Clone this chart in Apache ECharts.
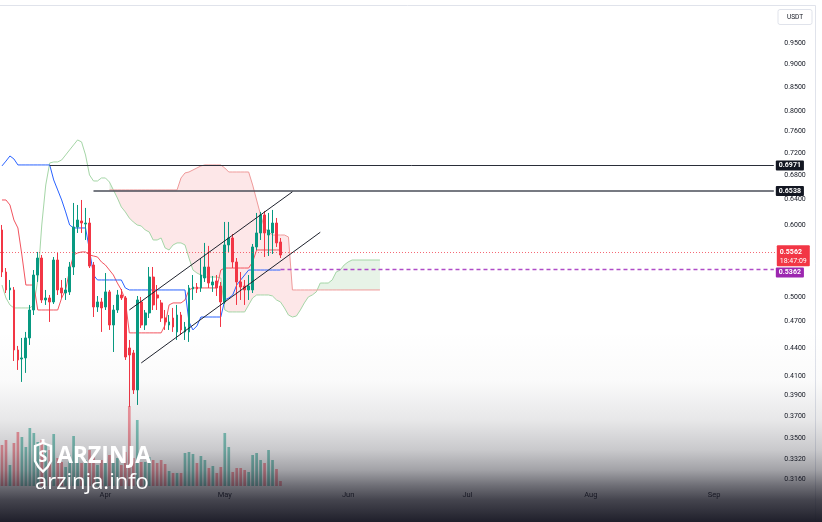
<!DOCTYPE html>
<html><head><meta charset="utf-8">
<script src="https://cdn.jsdelivr.net/npm/echarts@6/dist/echarts.min.js"></script>
<style>html,body{margin:0;padding:0;background:#fff;overflow:hidden}#c{width:822px;height:522px}</style>
</head><body><div id="c"></div>
<script>
// ---------- data ----------
const startYear = 2025, startMonth = 2, startDay = 6;   // 6 Mar
const dayCount = 195;
const monthNames = ['Jan','Feb','Mar','Apr','May','Jun','Jul','Aug','Sep','Oct','Nov','Dec'];

const opens = [0.5925,0.5328,0.5092,0.5092,0.4376,0.4278,0.4289,0.4511,0.4841,0.5288,
 0.5520,0.4965,0.4990,0.4940,0.5492,0.5118,0.5053,0.5067,0.5396,0.5970,
 0.6061,0.6015,0.6030,0.5423,0.4878,0.4940,0.4878,0.5067,0.4661,0.4841,
 0.5028,0.4990,0.4398,0.4343,0.3956,0.4940,0.4661,0.4805,0.5261,0.5028,
 0.4928,0.4744,0.4661,0.4744,0.4580,0.4780,0.4580,0.4580,0.5105,0.5130,
 0.5118,0.5248,0.5396,0.5156,0.5209,0.5143,0.4940,0.5705,0.5806,0.5465,
 0.5196,0.5143,0.5092,0.5092,0.5676,0.5880,0.6154,0.5850,0.5880,0.6030,0.5748];
const closes = [0.5328,0.5092,0.5118,0.4376,0.4267,0.4289,0.4511,0.4841,0.5288,0.5520,
 0.4965,0.4990,0.4940,0.5492,0.5092,0.5053,0.5092,0.5396,0.5970,0.6076,
 0.6030,0.6030,0.5409,0.4878,0.4940,0.4866,0.5067,0.4661,0.4841,0.5028,
 0.4990,0.4299,0.4321,0.3956,0.4965,0.4661,0.4805,0.5261,0.4903,0.4990,
 0.4744,0.4697,0.4697,0.4638,0.4780,0.4603,0.4638,0.5118,0.5130,0.5105,
 0.5288,0.5396,0.5182,0.5196,0.5118,0.4940,0.5705,0.5806,0.5465,0.5196,
 0.5130,0.5092,0.5143,0.5676,0.5880,0.6154,0.5880,0.5925,0.6030,0.5734,0.5562];
const lows = [0.5261,0.5053,0.4965,0.4256,0.4161,0.4037,0.4130,0.4432,0.4780,0.5196,
 0.4928,0.4903,0.4697,0.4915,0.5028,0.4990,0.4965,0.5028,0.5288,0.5880,
 0.5880,0.5777,0.5382,0.4756,0.4817,0.4580,0.4841,0.4603,0.4354,0.4805,
 0.4965,0.4267,0.3790,0.3916,0.3809,0.4626,0.4603,0.4744,0.4841,0.4841,
 0.4697,0.4603,0.4603,0.4580,0.4488,0.4545,0.4488,0.4466,0.4965,0.5053,
 0.5067,0.5196,0.5118,0.5067,0.5015,0.4638,0.4915,0.5605,0.5382,0.4903,
 0.4965,0.4903,0.4965,0.5053,0.5633,0.5777,0.5534,0.5548,0.5576,0.5676,0.5520];
const highs = [0.6000,0.5382,0.5222,0.5130,0.4421,0.4511,0.4580,0.4903,0.5355,0.5605,
 0.5562,0.5092,0.5028,0.5534,0.5590,0.5222,0.5248,0.5465,0.6343,0.6311,
 0.6391,0.6264,0.6107,0.5465,0.5015,0.4990,0.5315,0.5092,0.4903,0.5092,
 0.5105,0.5015,0.4488,0.4376,0.5015,0.5003,0.4841,0.5396,0.5396,0.5156,
 0.4965,0.4841,0.4780,0.4866,0.4903,0.4817,0.4697,0.5156,0.5288,0.5182,
 0.5520,0.5734,0.5691,0.5275,0.5288,0.5196,0.6046,0.6046,0.5865,0.5520,
 0.5328,0.5222,0.5288,0.5719,0.6185,0.6201,0.6216,0.6185,0.6232,0.6107,0.5806];
const volumes = [41,46,21,43,54,49,39,58,53,44,
 46,43,36,52,28,24,19,31,50,29,
 23,26,36,31,21,26,23,31,23,28,
 21,34,80,28,66,24,24,29,26,23,
 26,22,15,13,13,13,33,34,32,23,
 30,26,18,20,13,19,53,39,14,18,
 18,16,14,31,33,26,23,36,26,17,5];

const tenkan = [0.6965,0.7050,0.7142,0.7088,0.6982,0.6982,0.6982,0.6982,0.6982,0.6982,
 0.6982,0.6982,0.6982,0.6722,0.6555,0.6391,0.6201,0.6000,0.5955,0.5955,
 0.5955,0.5955,0.5633,0.5288,0.5222,0.5222,0.5222,0.5222,0.5222,0.5222,
 0.5222,0.5118,0.5092,0.5092,0.5092,0.5092,0.5092,0.5092,0.5092,0.5092,
 0.5092,0.5092,0.5092,0.5092,0.5092,0.5092,0.5092,0.4697,0.4603,0.4650,
 0.4756,0.4756,0.4756,0.4756,0.4756,0.4756,0.4965,0.4990,0.5028,0.5156,
 0.5222,0.5288,0.5355,0.5355,0.5355,0.5355,0.5355,0.5355,0.5355,0.5355,0.5355];
const kijun = [0.6391,0.6391,0.6311,0.6076,0.5955,0.5562,0.5156,0.5156,0.5156,0.4841,
 0.4841,0.4841,0.4841,0.4841,0.4841,0.4990,0.5092,0.5355,0.5562,0.5591,
 0.5605,0.5605,0.5562,0.5548,0.5534,0.5465,0.5423,0.5355,0.5288,0.5182,
 0.5092,0.4965,0.4569,0.4569,0.4569,0.4569,0.4569,0.4569,0.4569,0.4569,
 0.4569,0.4661,0.4903,0.4928,0.4928,0.4928,0.4965,0.5092,0.5118,0.5118,
 0.5118,0.5118,0.5118,0.5118,0.5118,0.5355,0.5382,0.5382,0.5382,0.5382,
 0.5382,0.5382,0.5382,0.5465,0.5633,0.5633,0.5633,0.5633,0.5633,0.5633,0.5633];
const leadA = [0.5156,0.4990,0.4903,0.4866,0.4866,0.4866,0.4866,0.4866,0.4903,0.5222,
 0.6000,0.6638,0.7017,0.7035,0.7035,0.7070,0.7160,0.7252,0.7344,0.7437,
 0.7400,0.7160,0.6808,0.6705,0.6705,0.6756,0.6756,0.6688,0.6555,0.6423,
 0.6279,0.6201,0.6107,0.6046,0.6000,0.5985,0.5925,0.5895,0.5777,0.5777,
 0.5806,0.5662,0.5633,0.5705,0.5734,0.5734,0.5705,0.5520,0.5355,0.5315,
 0.5288,0.5261,0.5261,0.5261,0.5261,0.5248,0.4841,0.4817,0.4817,0.4817,
 0.4817,0.4817,0.4903,0.4990,0.5028,0.5028,0.5028,0.5028,0.5015,0.4965,
 0.4940,0.4866,0.4780,0.4756,0.4768,0.4841,0.4928,0.5003,0.5028,0.5067,
 0.5182,0.5182,0.5182,0.5222,0.5328,0.5355,0.5423,0.5465,0.5492,0.5492,
 0.5492,0.5492,0.5492,0.5492,0.5492,0.5492];
const leadBStart = 27;
const leadB = [0.6555,0.6555,0.6555,0.6555,0.6555,0.6555,0.6555,0.6555,0.6555,0.6555,
 0.6555,0.6555,0.6555,0.6555,0.6555,0.6555,0.6555,0.6555,
 0.6756,0.6842,0.6859,0.6894,0.6929,0.6964,0.6982,0.6982,0.6982,0.6982,
 0.6982,0.6929,0.6859,0.6859,0.6859,0.6859,0.6859,0.6859,0.6638,0.6391,
 0.6154,0.5955,0.5895,0.5850,0.5850,0.5850,0.5850,0.5821,
 0.5092,0.5092,0.5092,0.5092,0.5092,0.5092,0.5092,0.5092,0.5092,0.5092,
 0.5092,0.5092,0.5092,0.5092,0.5092,0.5092,0.5092,0.5092,0.5092,0.5092,
 0.5092,0.5092,0.5092];

const yTicks = [0.95,0.90,0.85,0.80,0.76,0.72,0.68,0.64,0.60,0.56,0.50,0.47,0.44,0.41,0.39,0.37,0.35,0.332,0.316];

const levelHigh = 0.6971, levelHighStart = 12;
const levelMid = 0.6538, levelMidStart = 23;
const lastPrice = 0.5562, lastTime = '18:47:09';
const avgPrice = 0.5362, avgStart = 70;
const channelUpper = [[32, 0.4841], [73, 0.6524]];
const channelLower = [[35, 0.4235], [80, 0.5891]];

// ---------- build ----------
const categories = [];
const t0 = Date.UTC(startYear, startMonth, startDay);
for (let i = 0; i < dayCount; i++) categories.push(new Date(t0 + i * 86400000).toISOString().slice(0, 10));

const pad = (arr, start) => { const out = new Array(dayCount).fill(null); arr.forEach((v, k) => { out[start + k] = v; }); return out; };
const A = pad(leadA, 0), B = pad(leadB, leadBStart);
const cloudStart = leadBStart, cloudEnd = leadA.length - 1;

const candleData = opens.map((o, i) => [o, closes[i], lows[i], highs[i]]);
const UP = '#089981', DOWN = '#F23645';
const volData = volumes.map((v, i) => ({ value: v, itemStyle: { color: closes[i] >= opens[i] ? 'rgba(8,153,129,0.5)' : 'rgba(242,54,69,0.5)' } }));

const FONT = 'Roboto, "Liberation Sans", sans-serif';
const priceLabel = (txt, bg, extra) => Object.assign({ show: true, position: 'end', distance: 2, formatter: txt, backgroundColor: bg, color: '#fff',
  fontSize: 7, fontWeight: 'bold', fontFamily: FONT, padding: [2, 3, 1, 3], borderRadius: 1 }, extra || {});

const GRID_LEFT = -1.7, GRID_W = 777.5;

const option = {
  animation: false,
  backgroundColor: '#ffffff',
  grid: [
    { left: GRID_LEFT, top: 0, width: GRID_W, height: 486 },
    { left: GRID_LEFT, top: 380, width: GRID_W, height: 106 }
  ],
  xAxis: [
    { type: 'category', data: categories, boundaryGap: true, gridIndex: 0,
      axisLine: { show: false }, axisTick: { show: false }, splitLine: { show: false },
      axisLabel: { interval: (idx, val) => val.slice(8) === '01', formatter: val => monthNames[+val.slice(5, 7) - 1],
        fontSize: 7.5, color: '#131722', margin: 5, fontFamily: FONT } },
    { type: 'category', data: categories, boundaryGap: true, gridIndex: 1, show: false }
  ],
  yAxis: [
    { type: 'log', logBase: 10, gridIndex: 0, position: 'right', min: 0.3104, max: 1.0589,
      axisLine: { show: false }, axisTick: { show: false }, splitLine: { show: false }, axisLabel: { show: false } },
    { type: 'value', gridIndex: 1, min: 0, max: 106, show: false, splitLine: { show: false } }
  ],
  series: [
    { type: 'bar', xAxisIndex: 1, yAxisIndex: 1, data: volData, barWidth: 2.7, z: 1, silent: true },
    { type: 'custom', xAxisIndex: 0, yAxisIndex: 0, z: 1, silent: true, clip: true,
      data: [[cloudStart, A[cloudStart]]], encode: { x: 0, y: 1 },
      renderItem: function (params, api) {
        const pts = [];
        for (let i = cloudStart; i <= cloudEnd; i++) pts.push({ a: api.coord([i, A[i]]), b: api.coord([i, B[i]]) });
        const RED = 'rgba(242,54,69,0.12)', GREEN = 'rgba(67,160,71,0.13)';
        const children = [];
        let ra = null, rb = null, cur = 0;
        const flush = () => {
          if (ra && ra.length > 1) children.push({ type: 'polygon', shape: { points: ra.concat(rb.slice().reverse()) }, style: { fill: cur > 0 ? RED : GREEN } });
        };
        const addSeg = (a0, b0, a1, b1, sg) => {
          if (ra === null || sg !== cur) { flush(); ra = [a0]; rb = [b0]; cur = sg; }
          ra.push(a1); rb.push(b1);
        };
        for (let k = 1; k < pts.length; k++) {
          const p = pts[k - 1], q = pts[k];
          const d0 = p.a[1] - p.b[1], d1 = q.a[1] - q.b[1];
          if (d0 * d1 < 0) {
            const t = d0 / (d0 - d1);
            const c = [p.a[0] + t * (q.a[0] - p.a[0]), p.a[1] + t * (q.a[1] - p.a[1])];
            addSeg(p.a, p.b, c, c, d0 > 0 ? 1 : -1);
            addSeg(c, c, q.a, q.b, d1 > 0 ? 1 : -1);
          } else {
            const sm = d0 + d1;
            addSeg(p.a, p.b, q.a, q.b, sm > 0 ? 1 : (sm < 0 ? -1 : cur || 1));
          }
        }
        flush();
        return { type: 'group', children: children };
      } },
    { name: 'leadA', type: 'line', data: A, showSymbol: false, z: 2, silent: true, connectNulls: false,
      lineStyle: { color: '#A5D6A7', width: 1 } },
    { name: 'leadB', type: 'line', data: B, showSymbol: false, z: 2, silent: true, connectNulls: false,
      lineStyle: { color: '#EF9A9A', width: 1 } },
    { name: 'kijun', type: 'line', data: pad(kijun, 0), showSymbol: false, z: 2, silent: true,
      lineStyle: { color: '#F2545F', width: 1 } },
    { name: 'tenkan', type: 'line', data: pad(tenkan, 0), showSymbol: false, z: 2, silent: true,
      lineStyle: { color: '#2962FF', width: 1 } },
    { type: 'candlestick', data: candleData, barWidth: 2.3, z: 3, silent: true,
      itemStyle: { color: UP, color0: DOWN, borderColor: UP, borderColor0: DOWN, borderWidth: 1 } },
    { name: 'levels', type: 'line', data: [], z: 6, clip: false, silent: true,
      markLine: { symbol: ['none', 'none'], silent: true, animation: false,
        data: [
          [{ coord: [categories[levelHighStart], levelHigh], lineStyle: { color: '#2a2e39', width: 1, type: 'solid' },
             label: priceLabel(levelHigh.toFixed(4), '#131722') },
           { coord: [categories[dayCount - 1], levelHigh] }],
          [{ coord: [categories[levelMidStart], levelMid], lineStyle: { color: '#4a4e59', width: 1.6, type: 'solid' },
             label: priceLabel(levelMid.toFixed(4), '#131722') },
           { coord: [categories[dayCount - 1], levelMid] }],
          [{ coord: [categories[channelUpper[0][0]], channelUpper[0][1]], lineStyle: { color: '#1e222d', width: 1, type: 'solid' }, label: { show: false } },
           { coord: [categories[channelUpper[1][0]], channelUpper[1][1]] }],
          [{ coord: [categories[channelLower[0][0]], channelLower[0][1]], lineStyle: { color: '#1e222d', width: 1, type: 'solid' }, label: { show: false } },
           { coord: [categories[channelLower[1][0]], channelLower[1][1]] }],
          [{ coord: [categories[avgStart], avgPrice], lineStyle: { color: '#B04CC8', width: 1.3, type: [4, 3], opacity: 1 },
             label: priceLabel(avgPrice.toFixed(4), '#9C27B0', { offset: [0, 3], padding: [2, 3, 1, 3] }) },
           { coord: [categories[dayCount - 1], avgPrice] }],
          { yAxis: lastPrice, lineStyle: { color: 'rgba(242,54,69,0.75)', width: 1, type: [1, 2] },
            label: { show: true, position: 'end', distance: 1, offset: [0, 3.5], backgroundColor: '#F23645', padding: [2, 3, 1, 3], borderRadius: 1,
              formatter: '{a|' + lastPrice.toFixed(4) + '}\n{b|' + lastTime + '}',
              rich: { a: { color: '#fff', fontSize: 7, fontWeight: 'bold', fontFamily: FONT, lineHeight: 9 },
                      b: { color: '#fff', fontSize: 7, fontFamily: FONT, lineHeight: 9 } } } }
        ] } },
    { type: 'custom', xAxisIndex: 0, yAxisIndex: 0, clip: false, silent: true, z: 4,
      data: yTicks.map(v => [0, v]), encode: { x: 0, y: 1 },
      renderItem: function (params, api) {
        const v = api.value(1);
        const pt = api.coord([0, v]);
        return { type: 'text', x: 795, y: pt[1],
          style: { text: v.toFixed(4), fill: '#131722', font: '7px ' + FONT, align: 'center', verticalAlign: 'middle' } };
      } }
  ],
  graphic: [
    { type: 'line', shape: { x1: 0, y1: 5.5, x2: 815.5, y2: 5.5 }, style: { stroke: '#e0e3eb', lineWidth: 1 }, silent: true, z: 50 },
    { type: 'line', shape: { x1: 815.5, y1: 5.5, x2: 815.5, y2: 522 }, style: { stroke: '#e0e3eb', lineWidth: 1 }, silent: true, z: 50 },
    { type: 'rect', shape: { x: 778, y: 9.5, width: 34, height: 15, r: 2 }, style: { fill: '#fff', stroke: '#e0e3eb', lineWidth: 1 }, silent: true, z: 50 },
    { type: 'text', x: 795, y: 17, style: { text: 'USDT', fill: '#131722', font: '6.5px ' + FONT, align: 'center', verticalAlign: 'middle' }, silent: true, z: 51 },
    { type: 'rect', shape: { x: 0, y: 330, width: 822, height: 192 }, silent: true, z: 100,
      style: { fill: new echarts.graphic.LinearGradient(0, 0, 0, 1, [
        { offset: 0, color: 'rgba(22,22,34,0)' },
        { offset: 0.26, color: 'rgba(22,22,34,0.02)' },
        { offset: 0.47, color: 'rgba(22,22,34,0.10)' },
        { offset: 0.625, color: 'rgba(22,22,34,0.23)' },
        { offset: 0.73, color: 'rgba(22,22,34,0.40)' },
        { offset: 0.81, color: 'rgba(22,22,34,0.62)' },
        { offset: 0.885, color: 'rgba(22,22,34,0.80)' },
        { offset: 1, color: 'rgba(22,22,34,0.96)' }
      ]) } },
    { type: 'polygon', silent: true, z: 110,
      shape: { points: [[35,446],[43,443],[51,446],[51,461],[47.5,467],[43,471.5],[38.5,467],[35,461]] },
      style: { fill: 'none', stroke: '#ffffff', lineWidth: 2.4 } },
    { type: 'rect', silent: true, z: 110, shape: { x: 41.5, y: 439, width: 3, height: 5 }, style: { fill: '#ffffff' } },
    { type: 'text', silent: true, z: 111, x: 43, y: 457.5,
      style: { text: 'S', fill: '#ffffff', font: 'bold 16px "Open Sans", sans-serif', align: 'center', verticalAlign: 'middle' } },
    { type: 'text', silent: true, z: 111, x: 57, y: 456,
      style: { text: 'ARZINJA', fill: '#ffffff', font: 'bold 23px "Open Sans", sans-serif', align: 'left', verticalAlign: 'middle' } },
    { type: 'text', silent: true, z: 111, x: 35, y: 482.5,
      style: { text: 'arzinja.info', fill: '#ffffff', font: '22px "Open Sans", sans-serif', align: 'left', verticalAlign: 'middle' } }
  ]
};

const chart = echarts.init(document.getElementById('c'), null, { renderer: 'canvas', width: 822, height: 522 });
chart.setOption(option);
</script>
</body></html>
